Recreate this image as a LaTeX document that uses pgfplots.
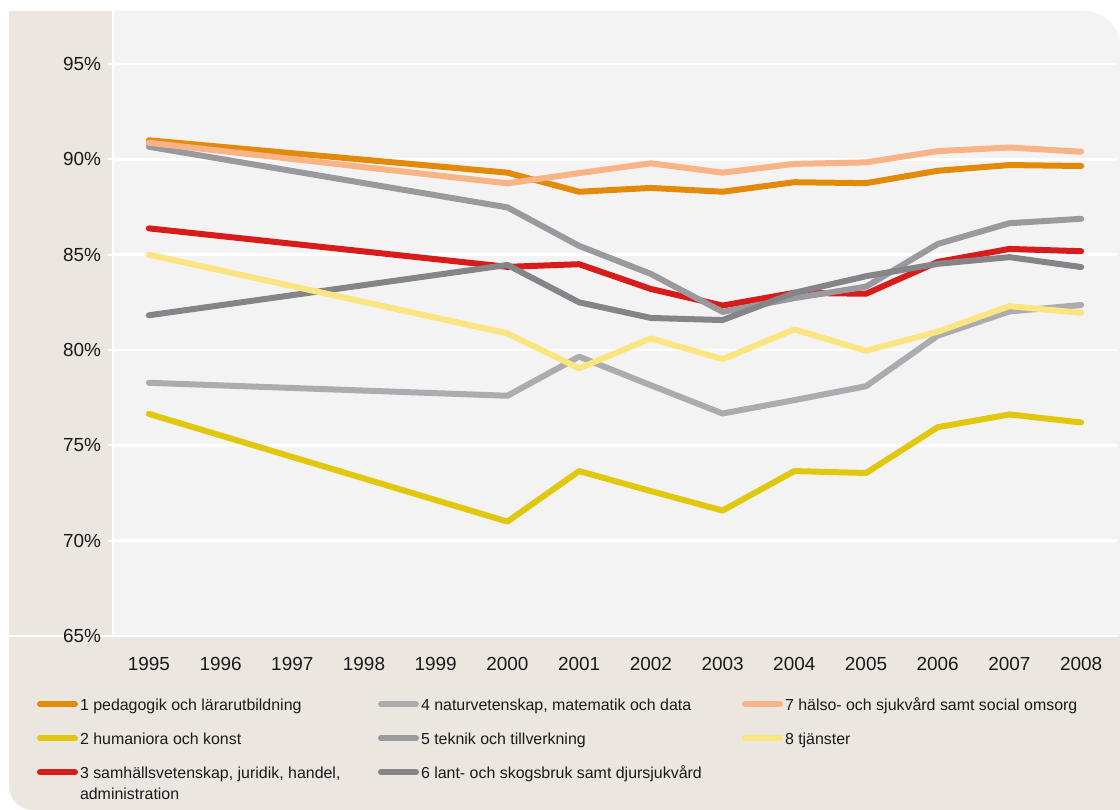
\documentclass[border=0pt]{standalone}
\usepackage{fontspec}
\setmainfont{Liberation Sans}
\usepackage{pgfplots}
\pgfplotsset{compat=1.18}
\definecolor{c1}{HTML}{E38A0B}
\definecolor{c2}{HTML}{E1C80E}
\definecolor{c3}{HTML}{D81B1B}
\definecolor{c4}{HTML}{ACABAF}
\definecolor{c5}{HTML}{9A999E}
\definecolor{c6}{HTML}{858489}
\definecolor{c7}{HTML}{F8B386}
\definecolor{c8}{HTML}{FBE580}
\definecolor{outerbg}{HTML}{EBE7E0}
\definecolor{plotbg}{HTML}{F3F3F3}
\definecolor{txt}{HTML}{1A1A1A}
\begin{document}
\begin{tikzpicture}
\fill[white] (-56.5bp,-87bp) rectangle (503.5bp,318bp);
\fill[outerbg] (-52bp,-75bp) -- (-52bp,312.5bp) -- (485.5bp,312.5bp) arc[start angle=90,end angle=0,radius=18bp] -- (503.5bp,-87bp) -- (-40bp,-87bp) arc[start angle=270,end angle=180,radius=12bp] -- cycle;
\fill[plotbg] (0bp,0bp) -- (0bp,312.5bp) -- (485.5bp,312.5bp) arc[start angle=90,end angle=0,radius=18bp] -- (503.5bp,0bp) -- cycle;
\draw[white, line width=1.2bp] (-52bp,0bp) -- (0bp,0bp);
\begin{axis}[
  scale only axis, width=502bp, height=312.5bp,
  xmin=1994.5, xmax=2008.5, ymin=65, ymax=97.78,
  axis x line*=bottom, axis y line*=left,
  axis line style={white, line width=1.2bp},
  ytick={65,70,75,80,85,90,95},
  yticklabels={65\%,70\%,75\%,80\%,85\%,90\%,95\%},
  xtick={1995,1996,...,2008},
  xticklabels={1995,1996,1997,1998,1999,2000,2001,2002,2003,2004,2005,2006,2007,2008},
  minor xtick={1994.5,1995.5,...,2008.5},
  ymajorgrids, major grid style={white, line width=1.2bp},
  tick align=outside, major tick length=2.5bp, minor tick length=2bp,
  xtick style={draw=none},
  minor x tick style={white, line width=1bp},
  ytick style={white, line width=1bp},
  tick label style={font=\fontsize{9.5}{11}\selectfont, text=txt},
  /pgf/number format/assume math mode=true,
  xticklabel style={anchor=base, yshift=-14.5bp},
  yticklabel style={anchor=east},
  legend style={at={(axis description cs:0,0)}, anchor=north west, xshift=-38bp, yshift=-31bp,
    draw=none, fill=none, inner sep=0pt, outer sep=0pt, row sep=9bp, column sep=0pt,
    font=\fontsize{8}{11}\selectfont, text=txt, cells={anchor=base west},
    nodes={inner sep=0pt, text height=6bp, text depth=2bp}},
  transpose legend, legend columns=3,
  legend image code/.code={\draw[#1, line cap=round] (1.5bp,2.9bp) -- (19bp,2.9bp);},
  every axis plot/.append style={line width=3bp, line join=round, line cap=round},
]
\addplot[c1] coordinates {(1995,91.0) (2000,89.3) (2001,88.3) (2002,88.5) (2003,88.3) (2004,88.8) (2005,88.75) (2006,89.4) (2007,89.7) (2008,89.65)};
\addlegendentry{\makebox[150bp][l]{\hspace{1bp}1 pedagogik och lärarutbildning}}
\addplot[c2] coordinates {(1995,76.65) (2000,71.0) (2001,73.65) (2002,72.6) (2003,71.58) (2004,73.65) (2005,73.55) (2006,75.95) (2007,76.62) (2008,76.2)};
\addlegendentry{\makebox[150bp][l]{\hspace{1bp}2 humaniora och konst}}
\addplot[c3] coordinates {(1995,86.38) (2000,84.36) (2001,84.5) (2002,83.2) (2003,82.33) (2004,83.0) (2005,82.95) (2006,84.62) (2007,85.3) (2008,85.18)};
\addlegendentry{\parbox[t]{150bp}{\hspace{1bp}3 samhällsvetenskap, juridik, handel,\\\hspace*{1bp}administration}}
\addplot[c4] coordinates {(1995,78.28) (2000,77.6) (2001,79.65) (2002,78.15) (2003,76.67) (2004,77.37) (2005,78.1) (2006,80.75) (2007,82.02) (2008,82.36)};
\addlegendentry{\makebox[161.5bp][l]{\hspace{1bp}4 naturvetenskap, matematik och data}}
\addplot[c5] coordinates {(1995,90.66) (2000,87.48) (2001,85.46) (2002,83.99) (2003,82.0) (2004,82.72) (2005,83.32) (2006,85.56) (2007,86.65) (2008,86.88)};
\addlegendentry{\makebox[161.5bp][l]{\hspace{1bp}5 teknik och tillverkning}}
\addplot[c6] coordinates {(1995,81.82) (2000,84.46) (2001,82.5) (2002,81.68) (2003,81.57) (2004,83.0) (2005,83.87) (2006,84.52) (2007,84.87) (2008,84.35)};
\addlegendentry{\makebox[161.5bp][l]{\hspace{1bp}6 lant- och skogsbruk samt djursjukvård}}
\addplot[c7] coordinates {(1995,90.87) (2000,88.74) (2001,89.28) (2002,89.79) (2003,89.3) (2004,89.76) (2005,89.84) (2006,90.43) (2007,90.62) (2008,90.4)};
\addlegendentry{\hspace{1bp}7 hälso- och sjukvård samt social omsorg}
\addplot[c8] coordinates {(1995,85.0) (2000,80.87) (2001,79.04) (2002,80.61) (2003,79.52) (2004,81.08) (2005,79.96) (2006,80.96) (2007,82.3) (2008,81.95)};
\addlegendentry{\hspace{1bp}8 tjänster}
\end{axis}
\pgfresetboundingbox
\path[use as bounding box] (-56.5bp,-87bp) rectangle (503.5bp,318bp);
\end{tikzpicture}
\end{document}
